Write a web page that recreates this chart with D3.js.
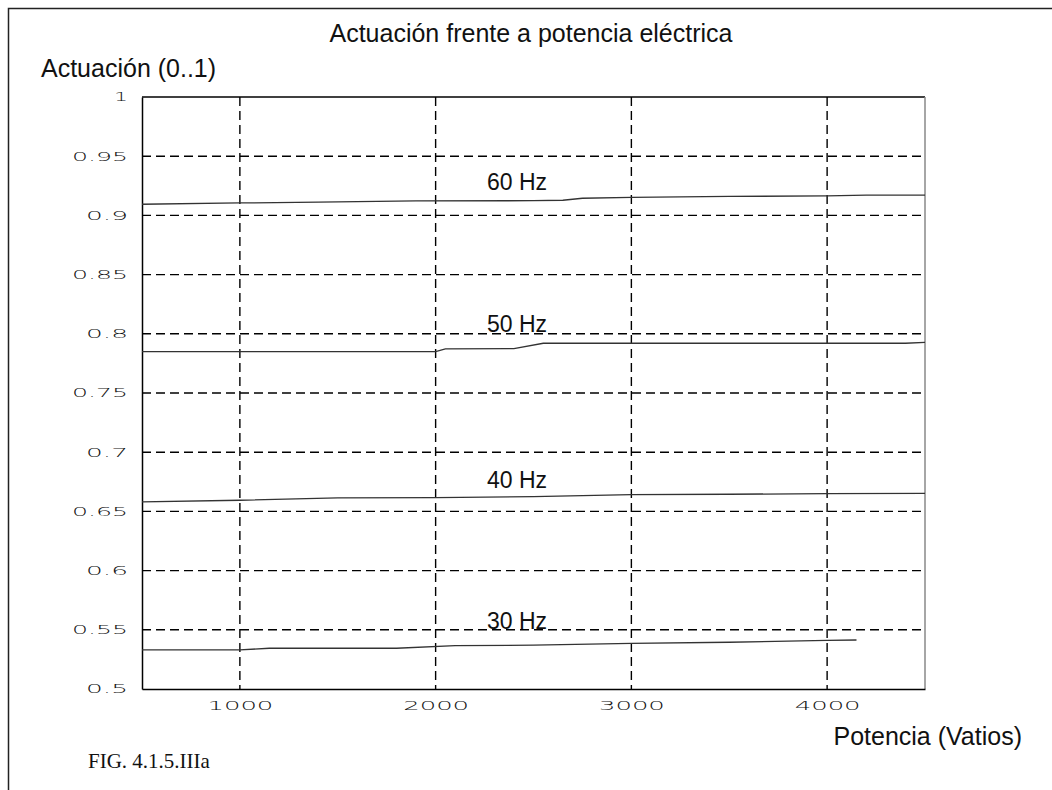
<!DOCTYPE html>
<html>
<head>
<meta charset="utf-8">
<script src="https://cdn.jsdelivr.net/npm/d3@7"></script>
<style>
  body { margin: 0; background: #fff; }
  svg { display: block; }
</style>
</head>
<body>
<div id="chart"></div>
<script>
// data
var potencia30 = [500, 1000, 1150, 1800, 2100, 2500, 3000, 3500, 4000, 4150];
var hz30 = [0.533, 0.533, 0.5344, 0.5344, 0.5366, 0.537, 0.5386, 0.5395, 0.5411, 0.5414];

var potencia40 = [500, 1000, 1500, 2000, 2500, 3000, 3500, 4000, 4500];
var hz40 = [0.658, 0.6594, 0.6614, 0.6617, 0.6625, 0.6641, 0.6645, 0.665, 0.6653];

var potencia50 = [500, 1000, 1500, 2000, 2050, 2400, 2550, 3000, 3500, 4000, 4400, 4500];
var hz50 = [0.7849, 0.7849, 0.7849, 0.7849, 0.7872, 0.7875, 0.792, 0.792, 0.792, 0.792, 0.792, 0.7928];

var potencia60 = [500, 1000, 1400, 1900, 2500, 2650, 2750, 3000, 3500, 4000, 4200, 4500];
var hz60 = [0.9094, 0.9105, 0.9112, 0.9122, 0.9124, 0.9128, 0.9145, 0.9153, 0.916, 0.9165, 0.9172, 0.9172];

var seriesNames = ["30 Hz", "40 Hz", "50 Hz", "60 Hz"];
var labelX = [2262, 2262, 2262, 2262];
var labelY = [0.5507, 0.6698, 0.8015, 0.9215];

var xTicks = [1000, 2000, 3000, 4000];
var xTickLabels = ["1000", "2000", "3000", "4000"];
var yTicks = [0.5, 0.55, 0.6, 0.65, 0.7, 0.75, 0.8, 0.85, 0.9, 0.95, 1];
var yTickLabels = ["0.5", "0.55", "0.6", "0.65", "0.7", "0.75", "0.8", "0.85", "0.9", "0.95", "1"];

var series = [
  {x: potencia30, y: hz30},
  {x: potencia40, y: hz40},
  {x: potencia50, y: hz50},
  {x: potencia60, y: hz60}
];

// dimensions
var w = 1052;
var h = 790;
var margin = {top: 97, right: 127, bottom: 101, left: 142};
var innerWidth = w - margin.left - margin.right;
var innerHeight = h - margin.top - margin.bottom;

var svg = d3.select("#chart")
  .append("svg")
    .attr("width", w)
    .attr("height", h);

// outer frame (top + left only)
svg.append("path")
  .attr("d", "M1052,8.5 L8.5,8.5 L8.5,790")
  .attr("fill", "none")
  .attr("stroke", "#222")
  .attr("stroke-width", 1.5);

var xScale = d3.scaleLinear()
  .domain([500, 4500])
  .range([0, innerWidth]);

var yScale = d3.scaleLinear()
  .domain([0.5, 1])
  .range([innerHeight, 0]);

var g = svg.append("g")
  .attr("transform", `translate(${margin.left}, ${margin.top})`);

// dashed grid
g.selectAll(".vgrid")
  .data(xTicks)
  .enter().append("line")
    .attr("class", "vgrid")
    .attr("x1", d => xScale(d))
    .attr("x2", d => xScale(d))
    .attr("y1", 0)
    .attr("y2", innerHeight)
    .attr("stroke", "#000")
    .attr("stroke-width", 1.4)
    .attr("stroke-dasharray", "9,5");

g.selectAll(".hgrid")
  .data(yTicks.slice(1, -1))
  .enter().append("line")
    .attr("class", "hgrid")
    .attr("x1", 0)
    .attr("x2", innerWidth)
    .attr("y1", d => yScale(d))
    .attr("y2", d => yScale(d))
    .attr("stroke", "#000")
    .attr("stroke-width", 1.4)
    .attr("stroke-dasharray", "9,5");

// box
g.append("line")
  .attr("x1", 0).attr("x2", innerWidth)
  .attr("y1", 0).attr("y2", 0)
  .attr("stroke", "#000").attr("stroke-width", 1.5);
g.append("line")
  .attr("x1", innerWidth).attr("x2", innerWidth)
  .attr("y1", 0).attr("y2", innerHeight)
  .attr("stroke", "#888").attr("stroke-width", 1.5);

// axes
var xAxis = d3.axisBottom(xScale)
  .tickValues(xTicks)
  .tickFormat((d, i) => xTickLabels[i])
  .tickSize(0)
  .tickPadding(12);

var yAxis = d3.axisLeft(yScale)
  .tickValues(yTicks)
  .tickFormat((d, i) => yTickLabels[i])
  .tickSize(0)
  .tickPadding(14);

var gx = g.append("g")
  .attr("transform", `translate(0, ${innerHeight})`)
  .call(xAxis);
var gy = g.append("g").call(yAxis);

[gx, gy].forEach(function (ax) {
  ax.select(".domain").attr("stroke", "#000").attr("stroke-width", 1.5);
  ax.selectAll("text")
    .attr("font-family", "DejaVu Sans")
    .attr("font-weight", 200)
    .attr("font-size", 12)
    .attr("fill", "#111");
});

// the plotter font is very wide: stretch tick labels horizontally
function stretch(sel, perChar) {
  sel.each(function () {
    var t = d3.select(this);
    var natural = this.getComputedTextLength();
    var sx = (this.textContent.length * perChar) / natural;
    var x0 = +t.attr("x") || 0;
    t.attr("x", x0 / sx).attr("transform", `scale(${sx},1)`);
  });
}
stretch(gx.selectAll("text"), 16.5);
stretch(gy.selectAll("text"), 14);

// curves
var line = d3.line()
  .x(d => xScale(d[0]))
  .y(d => yScale(d[1]));

g.selectAll(".curve")
  .data(series)
  .enter().append("path")
    .attr("class", "curve")
    .attr("d", s => line(s.x.map((v, i) => [v, s.y[i]])))
    .attr("fill", "none")
    .attr("stroke", "#333")
    .attr("stroke-width", 1.3);

g.selectAll(".lbl")
  .data(seriesNames)
  .enter().append("text")
    .attr("class", "lbl")
    .attr("x", (d, i) => xScale(labelX[i]))
    .attr("y", (d, i) => yScale(labelY[i]))
    .attr("font-family", "Liberation Sans, Arial, sans-serif")
    .attr("font-size", 23)
    .attr("fill", "#111")
    .text(d => d);

// titles
svg.append("text")
  .attr("x", 531)
  .attr("y", 42)
  .attr("text-anchor", "middle")
  .attr("font-family", "Liberation Sans, Arial, sans-serif")
  .attr("font-size", 25)
  .attr("fill", "#111")
  .text("Actuación frente a potencia eléctrica");

svg.append("text")
  .attr("x", 41)
  .attr("y", 77)
  .attr("font-family", "Liberation Sans, Arial, sans-serif")
  .attr("font-size", 25)
  .attr("fill", "#111")
  .text("Actuación (0..1)");

svg.append("text")
  .attr("x", 1022)
  .attr("y", 745)
  .attr("text-anchor", "end")
  .attr("font-family", "Liberation Sans, Arial, sans-serif")
  .attr("font-size", 25)
  .attr("fill", "#111")
  .text("Potencia (Vatios)");

svg.append("text")
  .attr("x", 88)
  .attr("y", 768)
  .attr("font-family", "Liberation Serif, serif")
  .attr("font-size", 21)
  .attr("fill", "#111")
  .text("FIG. 4.1.5.IIIa");
</script>
</body>
</html>
